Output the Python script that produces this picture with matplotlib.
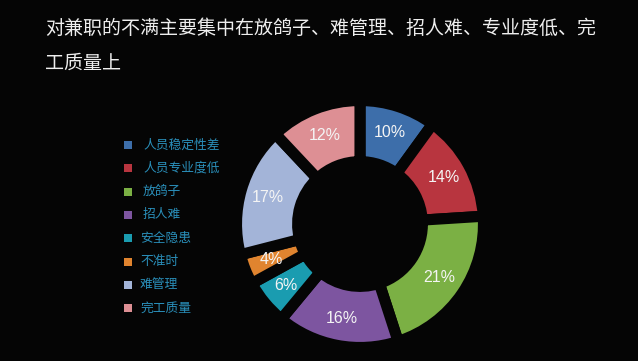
import matplotlib
matplotlib.use("Agg")
import matplotlib.pyplot as plt
from matplotlib.patches import Rectangle
import numpy as np

plt.rcParams['font.family'] = ['Noto Sans CJK SC', 'DejaVu Sans']

title = "对兼职的不满主要集中在放鸽子、难管理、招人难、专业度低、完\n工质量上"
categories = ["人员稳定性差", "人员专业度低", "放鸽子", "招人难", "安全隐患", "不准时", "难管理", "完工质量"]
values = [10, 14, 21, 16, 6, 4, 17, 12]
colors = ['#3d6eaa', '#b8353f', '#7bb044', '#7d55a0', '#1a9cb0', '#e0842f', '#a3b4d8', '#dd8f94']

W, H = 638, 361
fig = plt.figure(figsize=(W / 100, H / 100), dpi=100, facecolor='#050505')

fig.text(45 / W, 1 - 18 / H, title, color='#eeeeee', fontsize=13.7, va='top', ha='left',
         linespacing=1.85)

# donut
cx, cy, R = 360, 137, 123.5
ax = fig.add_axes([(cx - R) / W, (cy - R) / H, 2 * R / W, 2 * R / H])
ax.set_facecolor('#050505')
wedges, texts = ax.pie(values, colors=colors, startangle=90, counterclock=False, radius=1,
                       wedgeprops=dict(width=0.495, edgecolor='#050505', linewidth=8))
total = sum(values)
ang = 90
for v in values:
    mid = ang - v / total * 360 / 2
    ang -= v / total * 360
    r = 0.775
    ax.text(r * np.cos(np.radians(mid)), r * np.sin(np.radians(mid)), f"{v}%",
            ha='center', va='center', color='#f4f4f4', fontsize=11.5, family='Liberation Sans')
ax.set_xlim(-1, 1)
ax.set_ylim(-1, 1)
ax.set_aspect('equal')
ax.axis('off')

# legend
y0, dy = 145, 23.3
for i, (lab, col) in enumerate(zip(categories, colors)):
    y = y0 + i * dy
    fig.patches.append(Rectangle((124 / W, 1 - (y + 4) / H), 8 / W, 8 / H,
                                 transform=fig.transFigure, facecolor=col, edgecolor='none'))
    fig.text((143 if i < 4 else 140) / W, 1 - y / H, lab, color='#2a8fba', fontsize=9.2,
             va='center', ha='left')

fig.savefig('out.png', dpi=100, facecolor=fig.get_facecolor())
